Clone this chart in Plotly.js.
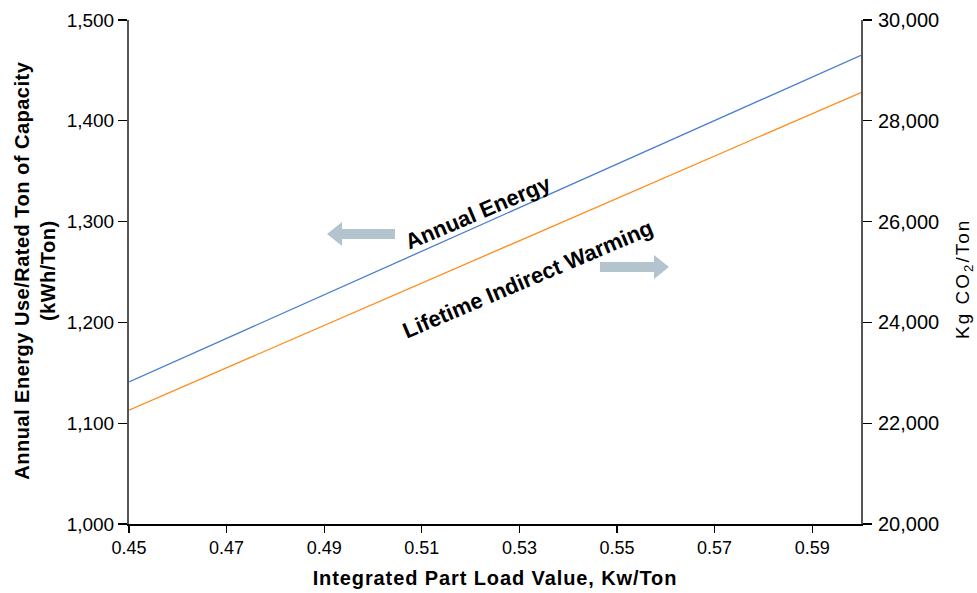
<!DOCTYPE html>
<html>
<head>
<meta charset="utf-8">
<script src="https://cdn.plot.ly/plotly-3.0.1.min.js"></script>
<style>
html,body{margin:0;padding:0;background:#fff;}
#chart{width:977px;height:593px;}
#chart .xtitle{letter-spacing:0.9px;}
#chart g.annotation[data-index="2"] text{letter-spacing:0.5px;}
#chart g.annotation[data-index="3"] text{letter-spacing:2px;}
</style>
</head>
<body>
<div id="chart"></div>
<script>
// Data
const iplv = [0.45, 0.50, 0.55, 0.60];                 // Integrated Part Load Value, Kw/Ton
const annualEnergy = [1141, 1249, 1357, 1465];         // kWh/Ton (left axis)
const lifetimeWarming = [22260, 24360, 26460, 28560];  // Kg CO2/Ton (right axis)
const xTicks = [0.45, 0.47, 0.49, 0.51, 0.53, 0.55, 0.57, 0.59];
const yLeftTicks = [1000, 1100, 1200, 1300, 1400, 1500];
const yRightTicks = [20000, 22000, 24000, 26000, 28000, 30000];

const FONT = 'Liberation Sans, Arial, sans-serif';
const arrowColor = '#b4c4cf';

// plot area in pixels
const L = 129, R = 861, T = 20, B = 524, W = 977, H = 593;
const px = x => (x - L) / (R - L);
const py = y => (B - y) / (B - T);
function poly(pts) {
  return 'M' + pts.map(p => px(p[0]).toFixed(4) + ',' + py(p[1]).toFixed(4)).join(' L') + ' Z';
}

const traces = [
  {x: iplv, y: annualEnergy, type: 'scatter', mode: 'lines', name: 'Annual Energy',
   line: {color: '#4a7dd0', width: 1.3}, yaxis: 'y'},
  {x: iplv, y: lifetimeWarming, type: 'scatter', mode: 'lines', name: 'Lifetime Indirect Warming',
   line: {color: '#ff8c1a', width: 1.3}, yaxis: 'y2'}
];

const layout = {
  width: W, height: H,
  margin: {l: L, r: W - R, t: T, b: H - B, pad: 0},
  paper_bgcolor: '#fff', plot_bgcolor: '#fff',
  showlegend: false,
  font: {family: FONT, color: '#000', size: 16},
  xaxis: {
    range: [0.45, 0.60], tickvals: xTicks, ticktext: xTicks.map(v => v.toFixed(2)),
    showgrid: false, zeroline: false, showline: true, linecolor: '#000', linewidth: 1.5,
    ticks: 'outside', ticklen: 7, tickcolor: '#000', tickwidth: 1.3,
    tickfont: {size: 18},
    title: {text: 'Integrated Part Load Value, Kw/Ton', font: {size: 20, weight: 'bold'}, standoff: 14}
  },
  yaxis: {
    range: [1000, 1500], tickvals: yLeftTicks, ticktext: yLeftTicks.map(v => v.toLocaleString('en-US')),
    showgrid: false, zeroline: false, showline: true, linecolor: '#555', linewidth: 2,
    ticks: 'outside', ticklen: 9, tickcolor: '#000', tickwidth: 1.3,
    tickfont: {size: 19}
  },
  yaxis2: {
    range: [20000, 30000], overlaying: 'y', side: 'right',
    tickvals: yRightTicks, ticktext: yRightTicks.map(v => v.toLocaleString('en-US')),
    showgrid: false, zeroline: false, showline: true, linecolor: '#555', linewidth: 2,
    ticks: 'outside', ticklen: 9, tickcolor: '#000', tickwidth: 1.3,
    ticklabelstandoff: 2,
    tickfont: {size: 20}
  },
  shapes: [
    {type: 'path', xref: 'paper', yref: 'paper', fillcolor: arrowColor, line: {width: 0},
     path: poly([[395,229],[342,229],[342,222],[327,234],[342,246],[342,239],[395,239]])},
    {type: 'path', xref: 'paper', yref: 'paper', fillcolor: arrowColor, line: {width: 0},
     path: poly([[600,262],[654,262],[654,255],[669,267],[654,279],[654,272],[600,272]])}
  ],
  annotations: [
    {text: '<b>Annual Energy</b>', xref: 'paper', yref: 'paper', x: px(478), y: py(212),
     xanchor: 'center', yanchor: 'middle',
     showarrow: false, textangle: -23, font: {size: 22}},
    {text: '<b>Lifetime Indirect Warming</b>', xref: 'paper', yref: 'paper', x: px(527), y: py(279),
     xanchor: 'center', yanchor: 'middle',
     showarrow: false, textangle: -23, font: {size: 22}},
    {text: '<b>Annual Energy Use/Rated Ton of Capacity<br>(kWh/Ton)</b>', xref: 'paper', yref: 'paper',
     x: px(35), y: py(271), xanchor: 'center', yanchor: 'middle',
     showarrow: false, textangle: -90, font: {size: 20}},
    {text: 'Kg CO<sub>2</sub>/Ton', xref: 'paper', yref: 'paper',
     x: px(964), y: py(279), xanchor: 'center', yanchor: 'middle',
     showarrow: false, textangle: -90, font: {size: 19}}
  ]
};

Plotly.newPlot('chart', traces, layout, {staticPlot: true, displayModeBar: false});
</script>
</body>
</html>
